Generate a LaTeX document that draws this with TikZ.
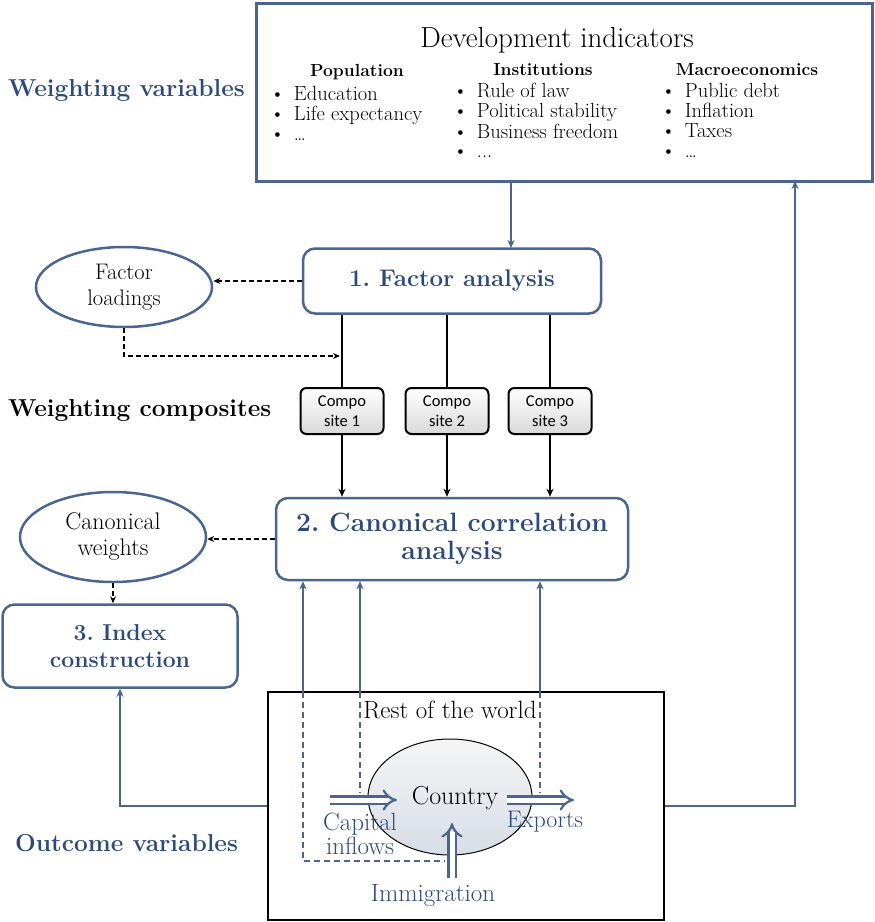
\documentclass[tikz,border=0pt]{standalone}
\usepackage{fontspec}
\setsansfont{Carlito}
\usetikzlibrary{arrows.meta,shapes.geometric}
\definecolor{navy}{HTML}{2E4A7A}
\definecolor{edge}{HTML}{4A6690}
\frenchspacing
\tikzset{
  box/.style={draw=edge,line width=2.5pt,rounded corners=12pt,fill=white,text=navy,
    align=center,inner sep=0pt},
  oval/.style={ellipse,draw=edge,line width=2.5pt,align=center,inner sep=0pt},
  comp/.style={draw=black,line width=2pt,rounded corners=6pt,top color=white,
    bottom color=gray!30,font=\sffamily\fontsize{16.5}{20}\selectfont,align=center,
    minimum width=83pt,minimum height=46pt,inner sep=0pt},
  side/.style={font=\bfseries\fontsize{24.5}{28}\selectfont,anchor=west,inner sep=0pt},
  head/.style={font=\bfseries\fontsize{17.5}{20}\selectfont,inner sep=0pt},
  lst/.style={font=\fontsize{20.5}{19.8}\selectfont,anchor=north west,inner sep=0pt},
  flow/.style={draw=edge,line width=1.6pt,-{Stealth[length=8pt,width=7pt]}},
  link/.style={line width=1.4pt,-{Stealth[length=8pt,width=7pt]}},
  hint/.style={dash pattern=on 5pt off 3pt,line width=1.3pt,
    -{Stealth[length=7pt,width=6pt]}},
  hollow/.style={draw=edge,double=white,line width=2.2pt,double distance=5pt,
    -{Implies}},
}
\begin{document}
\begin{tikzpicture}[x=1pt,y=-1pt]
        \path[use as bounding box] (0,0) rectangle (875,922);

        % weighting variables
        \draw (564,92) node[draw=edge,line width=3pt,minimum width=616pt,
          minimum height=178pt] (dev) {};
        \draw (557,40) node[font=\fontsize{29}{30}\selectfont] (devtitle)
          {Development indicators};
        \draw (357,72) node[head] (pophead) {Population};
        \draw (543,70) node[head] (insthead) {Institutions};
        \draw (747,70) node[head] (macrohead) {Macroeconomics};
        \draw (270,86) node[lst] (pop) {\begin{tabular}{@{}l@{\hspace{9pt}}l@{}}
          \textbullet & Education\\ \textbullet & Life expectancy\\
          \textbullet & \dots\end{tabular}};
        \draw (453,83) node[lst] (inst) {\begin{tabular}{@{}l@{\hspace{9pt}}l@{}}
          \textbullet & Rule of law\\ \textbullet & Political stability\\
          \textbullet & Business freedom\\ \textbullet & ...\end{tabular}};
        \draw (661,83) node[lst] (macro) {\begin{tabular}{@{}l@{\hspace{9pt}}l@{}}
          \textbullet & Public debt\\ \textbullet & Inflation\\
          \textbullet & Taxes\\ \textbullet & \dots\end{tabular}};
        \draw (8,90) node[side,text=navy] (wvar) {Weighting variables};

        % factor analysis and composites
        \draw (452,281) node[box,minimum width=298pt,minimum height=65pt,
          font=\bfseries\fontsize{24}{28}\selectfont] (fa) {1. Factor analysis};
        \draw (124,287) node[oval,minimum width=176pt,minimum height=80pt,
          font=\fontsize{22.5}{26}\selectfont] (load) {Factor\\loadings};
        \draw (342,411) node[comp] (comp1) {Compo\\site 1};
        \draw (447,411) node[comp] (comp2) {Compo\\site 2};
        \draw (550,411) node[comp] (comp3) {Compo\\site 3};
        \draw (8,410) node[side] (wcomp) {Weighting composites};
        \coordinate (fatop) at (511,248);
        \coordinate (loadend) at (340,356);

        \draw[flow] (dev.south -| fatop) -- (fatop);
        \draw[hint] (fa.west) -- (fa.west -| load.east);
        \draw[hint] (load.south) |- (loadend);
        \draw[line width=1.4pt] (fa.south -| comp1) -- (comp1.north);
        \draw[line width=1.4pt] (fa.south -| comp2) -- (comp2.north);
        \draw[line width=1.4pt] (fa.south -| comp3) -- (comp3.north);

        % canonical correlation and index
        \draw (452,539) node[box,minimum width=352pt,minimum height=82pt,
          font=\bfseries\fontsize{26.5}{28}\selectfont] (cca)
          {2. Canonical correlation\\analysis};
        \draw (113,537) node[oval,minimum width=186pt,minimum height=90pt,
          font=\fontsize{24}{26}\selectfont] (wts) {Canonical\\weights};
        \draw (120,646) node[box,minimum width=235pt,minimum height=83pt,
          font=\bfseries\fontsize{23}{27}\selectfont] (index) {3. Index\\construction};
        \draw[link] (comp1.south) -- (comp1 |- cca.north);
        \draw[link] (comp2.south) -- (comp2 |- cca.north);
        \draw[link] (comp3.south) -- (comp3 |- cca.north);
        \draw[hint] (cca.west) -- (cca.west -| wts.east);
        \draw[hint] (wts.south) -- (wts.south |- index.north);

        % outcome variables
        \draw (466,806) node[draw,line width=2.5pt,minimum width=396pt,
          minimum height=228pt] (world) {};
        \draw (450,797) node[ellipse,draw,line width=1pt,top color=gray!8,
          bottom color=edge!22,minimum width=164pt,minimum height=116pt] (country) {};
        \draw (450,710) node[font=\fontsize{25}{26}\selectfont] (rest) {Rest of the world};
        \draw (455,798) node[font=\fontsize{26}{26}\selectfont] (ctry) {Country};
        \draw (360,834) node[font=\fontsize{25}{22}\selectfont,text=navy,align=center]
          (caplbl) {Capital\\inflows};
        \draw (545,822) node[font=\fontsize{24}{26}\selectfont,text=navy] (explbl) {Exports};
        \draw (433,896) node[font=\fontsize{25}{26}\selectfont,text=navy] (immlbl)
          {Immigration};
        \draw (15,843) node[side,text=navy] (ovar) {Outcome variables};

        \coordinate (capA) at (330,800);
        \coordinate (capB) at (397,800);
        \coordinate (expA) at (507,800);
        \coordinate (expB) at (574,800);
        \coordinate (immA) at (452,878);
        \coordinate (immB) at (452,823);
        \draw[hollow] (capA) -- (capB);
        \draw[hollow] (expA) -- (expB);
        \draw[hollow] (immA) -- (immB);

        \coordinate (k1) at (303,692);
        \coordinate (k2) at (360,692);
        \coordinate (k3) at (540,692);
        \coordinate (kc) at (445,861);
        \coordinate (up) at (795,181);
        \draw[flow] (k1) -- (k1 |- cca.south);
        \draw[flow] (k2) -- (k2 |- cca.south);
        \draw[flow] (k3) -- (k3 |- cca.south);
        \draw[dash pattern=on 6pt off 4pt,draw=edge,line width=1.4pt] (k1) |- (kc);
        \draw[dash pattern=on 6pt off 4pt,draw=edge,line width=1.4pt] (k2) -- (k2 |- 0,793);
        \draw[dash pattern=on 6pt off 4pt,draw=edge,line width=1.4pt] (k3) -- (k3 |- 0,793);
        \draw[flow] (world.west) -| (index.south);
        \draw[flow] (world.east) -| (up);
\end{tikzpicture}
\end{document}
